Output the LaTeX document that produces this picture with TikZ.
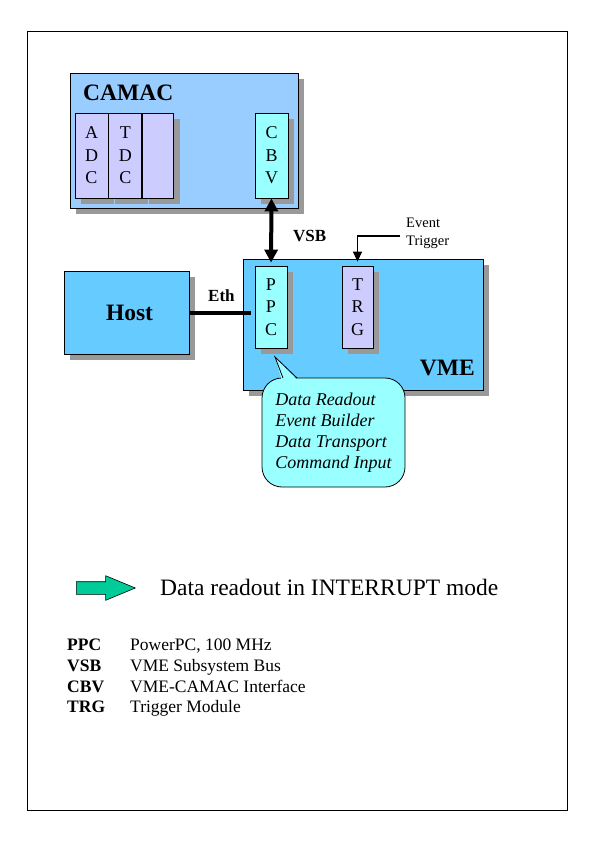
\documentclass[tikz,border=0pt]{standalone}
\usepackage{fontspec}
\setmainfont{Liberation Serif}
\usepackage{tikz}
\usetikzlibrary{shapes.arrows, arrows.meta, positioning, shadows}
\definecolor{camacblue}{HTML}{99CCFF}
\definecolor{vmeblue}{HTML}{66CCFF}
\definecolor{modlilac}{HTML}{CCCCFF}
\definecolor{modcyan}{HTML}{99FFFF}
\definecolor{shadowgray}{HTML}{999999}
\definecolor{readgreen}{HTML}{00CC99}

\begin{document}
\begin{tikzpicture}[x=1pt, y=1pt,
    shadowed/.style={drop shadow={shadow xshift=6pt, shadow yshift=-6pt, fill=shadowgray, opacity=1}},
    crate/.style={rectangle, draw, line width=0.8pt, inner sep=0pt, shadowed},
    module/.style={rectangle, draw, line width=0.8pt, inner sep=0pt, minimum width=33pt, minimum height=85pt, align=center, font=\fontsize{18}{22.5}\selectfont},
    bigtitle/.style={inner sep=0pt, font=\fontsize{23.5}{28}\selectfont\bfseries},
    buslabel/.style={inner sep=0pt, anchor=base west, font=\fontsize{17}{20}\selectfont\bfseries},
    abbr/.style={inner sep=0pt, anchor=base west, font=\fontsize{17.5}{20}\selectfont\bfseries},
    descr/.style={inner sep=0pt, anchor=base west, font=\fontsize{17.5}{20}\selectfont}
]
    \useasboundingbox (0,0) rectangle (595,-842);
    \draw[line width=0.8pt] (27,-31) rectangle (567,-810);

    \node[crate, fill=camacblue, minimum width=228pt, minimum height=135pt] (camac) at (184,-140.5) {};
    \node[bigtitle, anchor=base west] (camaclbl) at (83,-101) {CAMAC};
    \node[module, fill=modlilac, shadowed] (adc) at (91.5,-155.5) {A\\D\\C};
    \node[module, fill=modlilac, shadowed, right=0pt of adc] (tdc) {T\\D\\C};
    \node[module, fill=modlilac, shadowed, minimum width=31pt, right=0pt of tdc] (spare) {};
    \node[module, fill=modcyan, shadowed] (cbv) at (271.5,-155.5) {C\\B\\V};

    \node[crate, fill=vmeblue, minimum width=240pt, minimum height=131pt] (vme) at (363,-324.5) {};
    \node[bigtitle, anchor=base east] (vmelbl) at (475,-375) {VME};
    \node[module, fill=modcyan, shadowed, minimum width=32pt, minimum height=82pt] (ppc) at (271,-307) {P\\P\\C};
    \node[module, fill=modlilac, shadowed, minimum width=31pt, minimum height=82pt] (trg) at (357.5,-307) {T\\R\\G};

    \node[crate, fill=vmeblue, minimum width=125pt, minimum height=83pt, bigtitle] (host) at (126.5,-312.5) {\hspace*{6pt}Host};

    \draw[line width=4pt, {Triangle[length=13pt,width=13pt]}-{Triangle[length=13pt,width=13pt]}, shorten >=3pt] (cbv.south) -- (ppc.north);
    \node[buslabel] (vsb) at (293,-241) {VSB};

    \draw[line width=4pt, shorten >=4pt] (host.east) -- (host.east -| ppc.west);
    \node[buslabel] (eth) at (208,-301) {Eth};

    \node[anchor=west, inner sep=0pt, align=left, font=\fontsize{14.5}{18}\selectfont] (evt) at (406,-233) {Event\\Trigger};
    \coordinate (evtin) at (400,-236);
    \draw[line width=1.4pt, -{Triangle[length=10pt,width=9pt]}, shorten >=4pt] (evtin) -| (trg.north);

    \node[rectangle, draw, line width=0.8pt, fill=modcyan, rounded corners=20pt,
          minimum width=143pt, minimum height=109pt, align=left, font=\fontsize{18}{21}\selectfont\itshape] (tasks) at (333.5,-432.5)
          {Data Readout\\Event Builder\\Data Transport\\Command Input};
    \coordinate (ptrtip) at (275,-357);
    \fill[modcyan] (282,-381) -- (ptrtip) -- (298,-381) -- cycle;
    \draw[line width=0.8pt] (283,-378) -- (ptrtip) -- (297,-378);

    \node[single arrow, draw, line width=0.6pt, fill=readgreen, inner sep=6pt, minimum height=59pt,
          single arrow head extend=6pt, single arrow tip angle=45, anchor=tail] (irqarrow) at (76,-588) {};
    \node[anchor=base west, inner sep=0pt, font=\fontsize{23.5}{28}\selectfont] (irqtext) at (160,-595) {Data readout in INTERRUPT mode};

    \node[abbr] (ppcabbr) at (67,-650) {PPC};
    \node[descr] (ppcdescr) at (130,-650) {PowerPC, 100 MHz};
    \node[abbr] (vsbabbr) at (67,-671) {VSB};
    \node[descr] (vsbdescr) at (130,-671) {VME Subsystem Bus};
    \node[abbr] (cbvabbr) at (67,-692) {CBV};
    \node[descr] (cbvdescr) at (130,-692) {VME-CAMAC Interface};
    \node[abbr] (trgabbr) at (67,-712) {TRG};
    \node[descr] (trgdescr) at (130,-712) {Trigger Module};
\end{tikzpicture}
\end{document}
